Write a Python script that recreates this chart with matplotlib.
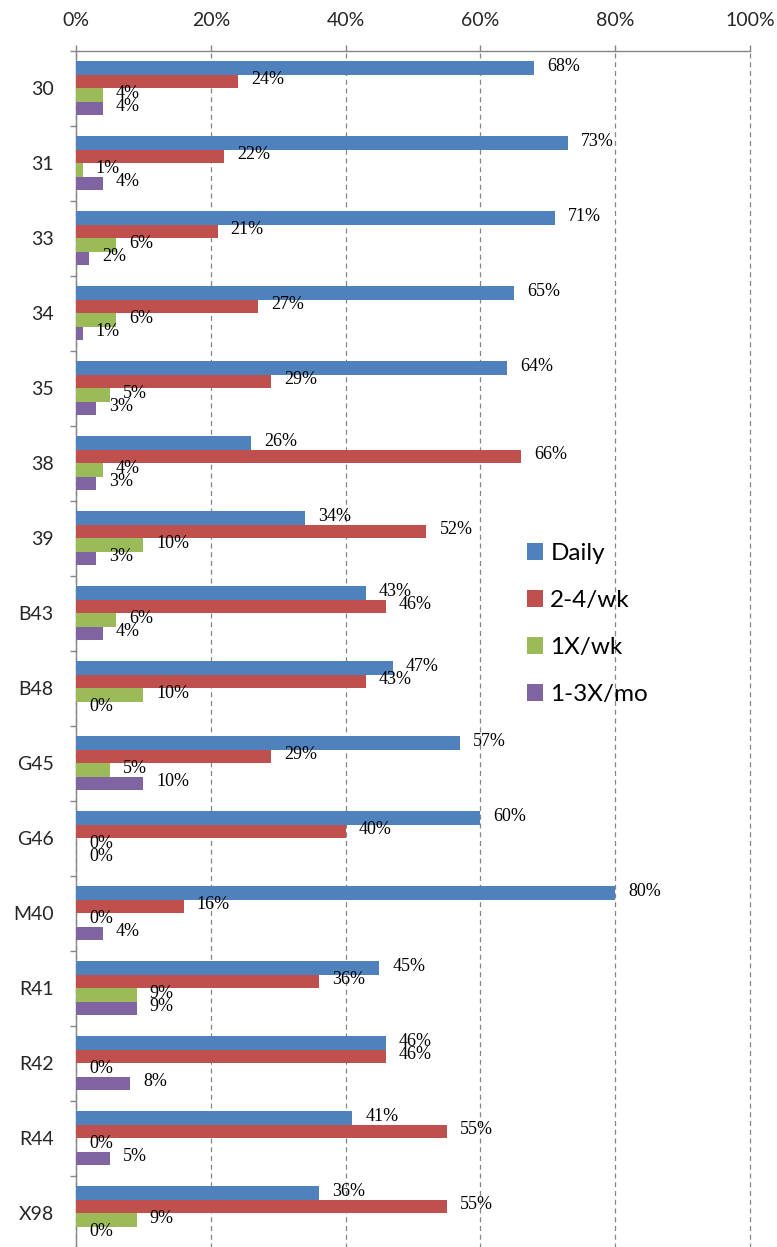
import numpy as np
import matplotlib
matplotlib.use("Agg")
import matplotlib.pyplot as plt
from matplotlib.patches import Patch
from matplotlib.ticker import FuncFormatter, MultipleLocator

routes = ["30", "31", "33", "34", "35", "38", "39", "B43", "B48",
          "G45", "G46", "M40", "R41", "R42", "R44", "X98"]
series = ["Daily", "2-4/wk", "1X/wk", "1-3X/mo"]
daily = [68, 73, 71, 65, 64, 26, 34, 43, 47, 57, 60, 80, 45, 46, 41, 36]
two_four_wk = [24, 22, 21, 27, 29, 66, 52, 46, 43, 29, 40, 16, 36, 46, 55, 55]
once_wk = [4, 1, 6, 6, 5, 4, 10, 6, 10, 5, 0, 0, 9, 0, 0, 9]
one_three_mo = [4, 4, 2, 1, 3, 3, 3, 4, 0, 10, 0, 4, 9, 8, 5, 0]
colors = ["#4F81BD", "#C0504D", "#9BBB59", "#8064A2"]

fig = plt.figure(figsize=(7.77, 12.47), dpi=100)
ax = fig.add_axes([76 / 777, -0.0032, 674 / 777, 1200 / 1247])

y = np.arange(len(routes))
h = 0.18
for i, (vals, col) in enumerate(zip([daily, two_four_wk, once_wk, one_three_mo], colors)):
    pos = y - 1.5 * h + i * h
    ax.barh(pos, np.array(vals) / 100, height=h, color=col, linewidth=0, zorder=3)
    for p, v in zip(pos, vals):
        ax.annotate(f"{v}%", (v / 100, p), xytext=(13, 2), textcoords="offset pixels",
                    ha="left", va="center", fontsize=13,
                    family="Liberation Serif", color="black", zorder=4)

ax.set_xlim(0, 1)
ax.set_ylim(len(routes) - 0.5, -0.5)

# x axis on top
ax.xaxis.tick_top()
ax.xaxis.set_major_locator(MultipleLocator(0.2))
ax.xaxis.set_major_formatter(FuncFormatter(lambda v, _: f"{v * 100:.0f}%"))
ax.tick_params(axis="x", which="major", direction="out", length=4.5, width=1,
               color="#868686", pad=11, labelsize=14, labelcolor="#262626")
ax.grid(axis="x", color="#868686", linestyle=(0, (4, 3)), linewidth=0.9, zorder=0)
for gl in ax.get_xgridlines():
    gl.set_clip_on(False)

# category labels centred, tick marks between groups
ax.set_yticks(y)
ax.set_yticklabels(routes)
ax.set_yticks(np.arange(-0.5, len(routes), 1), minor=True)
ax.tick_params(axis="y", which="major", length=0, pad=16, labelsize=14, labelcolor="#262626")
ax.tick_params(axis="y", which="minor", direction="out", length=4.5, width=1, color="#868686")

for lbl in ax.get_xticklabels() + ax.get_yticklabels():
    lbl.set_family("Lato")

for s in ["right", "bottom"]:
    ax.spines[s].set_visible(False)
for s in ["top", "left"]:
    ax.spines[s].set_color("#868686")
    ax.spines[s].set_linewidth(1)

handles = [Patch(facecolor=c, linewidth=0) for c in colors]
leg = fig.legend(handles, series, loc="upper left",
                 bbox_to_anchor=(527 / 777, 1 - 543 / 1247),
                 frameon=False, prop={"family": "Lato", "size": 17.5},
                 handlelength=0.66, handleheight=0.66, handletextpad=0.3,
                 labelspacing=1.07, borderpad=0, borderaxespad=0)
for t in leg.get_texts():
    t.set_color("black")

fig.savefig("out.png", dpi=100)
